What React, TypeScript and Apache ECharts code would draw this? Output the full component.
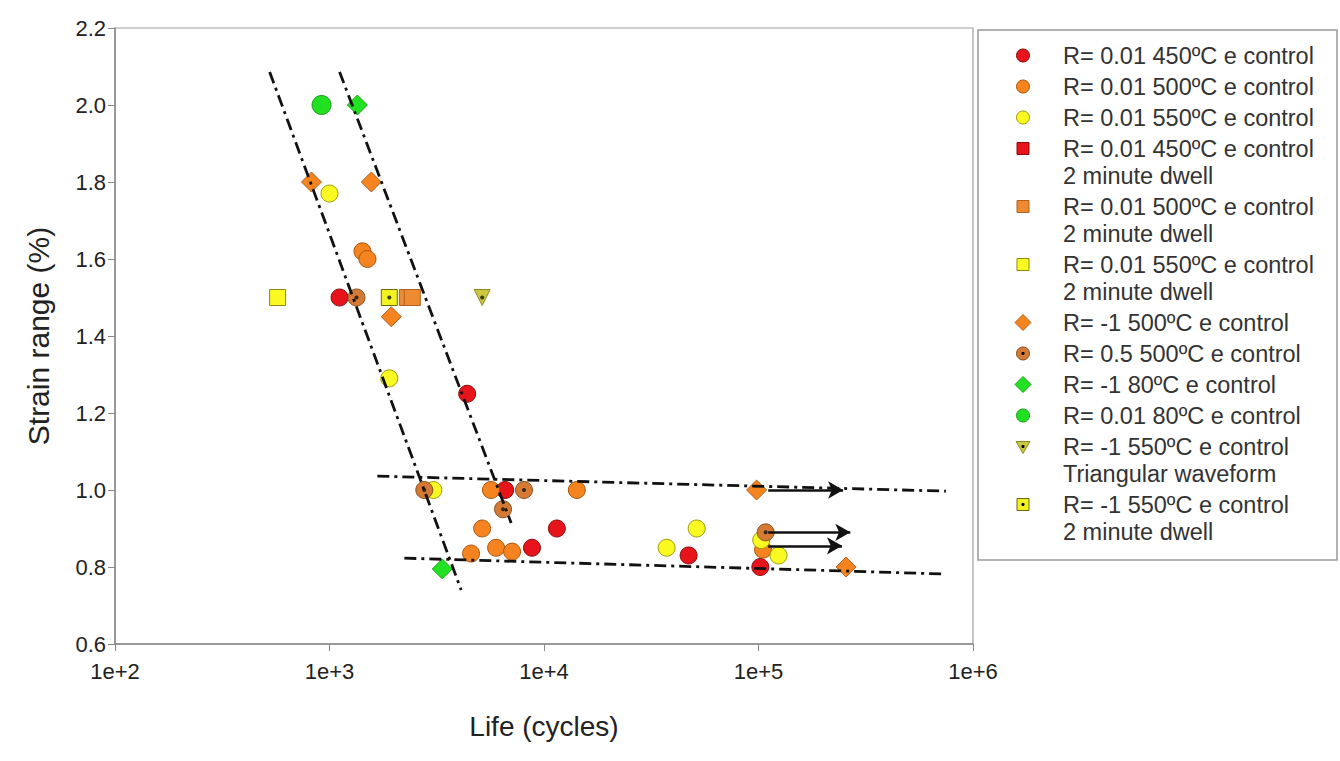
import React, { useEffect, useRef } from "react";
import * as echarts from "echarts";

// ---- data (Life in cycles, Strain range %) ----
const red450 = [[1114, 1.5], [4385, 1.25], [6590, 1.0], [11480, 0.9], [8790, 0.85], [47240, 0.83], [102000, 0.8]];
const orange500 = [[1424, 1.62], [1503, 1.6], [5660, 1.0], [14220, 1.0], [5150, 0.9], [4570, 0.835], [5980, 0.85], [7100, 0.84], [105000, 0.845]];
const yellow550 = [[1000, 1.77], [1900, 1.29], [3050, 1.0], [51500, 0.9], [37300, 0.85], [103000, 0.87], [124000, 0.83]];
const red450Dwell: number[][] = [];
const orange500Dwell = [[2307, 1.5], [2432, 1.5]];
const yellow550Dwell = [[573, 1.5]];
const rm1_500 = [[824, 1.8], [1567, 1.8], [1941, 1.45], [98000, 1.0], [256000, 0.8]];
const r05_500 = [[1336, 1.5], [2767, 1.0], [8070, 1.0], [6440, 0.95], [108000, 0.89]];
const rm1_80 = [[1349, 2.0], [3357, 0.795]];
const r001_80 = [[918, 2.0]];
const rm1_550Tri = [[5150, 1.5]];
const rm1_550Dwell = [[1900, 1.5]];

const guideLeft = [[526, 2.086], [4110, 0.74]];
const guideRight = [[1114, 2.086], [7030, 0.914]];
const guideUpper = [[1671, 1.036], [748000, 0.997]];
const guideLower = [[2233, 0.823], [724000, 0.782]];

const runoutArrows = [
  [[111000, 1.0], [248000, 1.0]],
  [[111000, 0.89], [268000, 0.89]],
  [[111000, 0.855], [245000, 0.855]],
];

const xTicks = ["1e+2", "1e+3", "1e+4", "1e+5", "1e+6"];

const legendNames = [
  "R= 0.01 450ºC e control",
  "R= 0.01 500ºC e control",
  "R= 0.01 550ºC e control",
  "R= 0.01 450ºC e control\n2 minute dwell",
  "R= 0.01 500ºC e control\n2 minute dwell",
  "R= 0.01 550ºC e control\n2 minute dwell",
  "R= -1 500ºC e control",
  "R= 0.5 500ºC e control",
  "R= -1 80ºC e control",
  "R= 0.01 80ºC e control",
  "R= -1 550ºC e control\nTriangular waveform",
  "R= -1 550ºC e control\n2 minute dwell",
];

type Meta = { data: number[][]; shape: string; fill: string; stroke: string; dot?: boolean; size: number };
const meta: Meta[] = [
  { data: red450, shape: "circle", fill: "#e8141c", stroke: "#8a0a0a", size: 17 },
  { data: orange500, shape: "circle", fill: "#f58420", stroke: "#a85510", size: 17 },
  { data: yellow550, shape: "circle", fill: "#fafa22", stroke: "#9a9a10", size: 17 },
  { data: red450Dwell, shape: "rect", fill: "#e8141c", stroke: "#8a0a0a", size: 16 },
  { data: orange500Dwell, shape: "rect", fill: "#ee8a30", stroke: "#b06020", size: 16 },
  { data: yellow550Dwell, shape: "rect", fill: "#fafa22", stroke: "#8a8a10", size: 16 },
  { data: rm1_500, shape: "diamond", fill: "#f58420", stroke: "#b06020", size: 20 },
  { data: r05_500, shape: "circle", fill: "#d47a34", stroke: "#8a5020", dot: true, size: 17 },
  { data: rm1_80, shape: "diamond", fill: "#22e022", stroke: "#18a018", size: 20 },
  { data: r001_80, shape: "circle", fill: "#22e022", stroke: "#18a018", size: 19 },
  { data: rm1_550Tri, shape: "triangleDown", fill: "#cfc640", stroke: "#8a8a20", dot: true, size: 16 },
  { data: rm1_550Dwell, shape: "rect", fill: "#f2f222", stroke: "#6a6a10", dot: true, size: 16 },
];

const FONT = '"Liberation Sans", Arial, sans-serif';

function legendSymbol(m: Meta, cx: number, cy: number) {
  const style = { fill: m.fill, stroke: m.stroke, lineWidth: 1 };
  if (m.shape === "circle") return { type: "circle", shape: { cx, cy, r: 6.5 }, style };
  if (m.shape === "rect") return { type: "rect", shape: { x: cx - 6, y: cy - 6, width: 12, height: 12 }, style };
  if (m.shape === "diamond")
    return { type: "polygon", shape: { points: [[cx, cy - 8], [cx + 8, cy], [cx, cy + 8], [cx - 8, cy]] }, style };
  return { type: "polygon", shape: { points: [[cx - 7, cy - 5], [cx + 7, cy - 5], [cx, cy + 7]] }, style };
}

function buildLegend() {
  const els: any[] = [
    { type: "rect", shape: { x: 978, y: 30, width: 359, height: 530 }, style: { fill: "#fff", stroke: "#9a9a9a", lineWidth: 1.5 } },
  ];
  let y = 42;
  legendNames.forEach((name, i) => {
    const m = meta[i];
    const cy = y + 13.5;
    els.push(legendSymbol(m, 1023, cy));
    if (m.dot) els.push({ type: "circle", shape: { cx: 1023, cy, r: 1.6 }, style: { fill: "#000" } });
    els.push({
      type: "text",
      x: 1063,
      y,
      style: { text: name, fontSize: 23.5, fontFamily: FONT, fill: "#333", lineHeight: 27, verticalAlign: "top", align: "left" },
    });
    y += name.split("\n").length * 27 + 4;
  });
  return els;
}

function symbolOf(shape: string) {
  if (shape === "rect") return "rect";
  if (shape === "diamond") return "diamond";
  if (shape === "triangleDown") return "triangle";
  return "circle";
}

export default function App() {
  const ref = useRef<HTMLDivElement>(null);
  useEffect(() => {
    const chart = echarts.init(ref.current!, null, { renderer: "svg" });
    const series: any[] = [];
    meta.forEach((m, i) => {
      series.push({
        type: "scatter",
        name: legendNames[i],
        data: m.data,
        symbol: symbolOf(m.shape),
        symbolRotate: m.shape === "triangleDown" ? 180 : 0,
        symbolSize: m.size,
        itemStyle: { color: m.fill, borderColor: m.stroke, borderWidth: 1, opacity: 1 },
        z: 2,
      });
      if (m.dot) {
        series.push({
          type: "scatter",
          data: m.data,
          symbol: "circle",
          symbolSize: 4,
          itemStyle: { color: "#111" },
          z: 3,
          silent: true,
        });
      }
    });
    const guideStyle = { color: "#111", width: 2.8, type: [12, 5, 3, 5] };
    [guideLeft, guideRight, guideUpper, guideLower].forEach((g) => {
      series.push({ type: "line", data: g, symbol: "none", lineStyle: guideStyle, z: 4, silent: true });
    });
    series.push({
      type: "scatter",
      data: [],
      markLine: {
        silent: true,
        symbol: ["none", "arrow"],
        symbolSize: [13, 15],
        label: { show: false },
        lineStyle: { color: "#111", width: 2.6, type: "solid" },
        data: runoutArrows.map(([a, b]) => [{ coord: a }, { coord: b }]),
      },
      z: 5,
    });

    chart.setOption({
      animation: false,
      backgroundColor: "#fff",
      textStyle: { fontFamily: FONT },
      grid: { left: 115, right: 367, top: 28, bottom: 117, show: true, borderColor: "#a0a0a0", borderWidth: 1.2 },
      xAxis: {
        type: "log",
        logBase: 10,
        min: 100,
        max: 1000000,
        name: "Life (cycles)",
        nameLocation: "middle",
        nameGap: 68,
        nameTextStyle: { fontSize: 28, color: "#222", fontFamily: FONT },
        axisLine: { show: true, lineStyle: { color: "#888", width: 1.5 } },
        axisTick: { show: true, length: 7, lineStyle: { color: "#888" } },
        minorTick: { show: false },
        splitLine: { show: false },
        axisLabel: {
          fontSize: 22,
          color: "#222",
          margin: 16,
          fontFamily: FONT,
          formatter: (v: number) => xTicks[Math.round(Math.log10(v)) - 2] ?? "",
        },
      },
      yAxis: {
        type: "value",
        min: 0.6,
        max: 2.2,
        interval: 0.2,
        name: "Strain range (%)",
        nameLocation: "middle",
        nameGap: 62,
        nameTextStyle: { fontSize: 30, color: "#222", fontFamily: FONT },
        axisLine: { show: true, lineStyle: { color: "#888", width: 1.5 } },
        axisTick: { show: true, length: 7, lineStyle: { color: "#888" } },
        splitLine: { show: false },
        axisLabel: { fontSize: 22, color: "#222", margin: 9, fontFamily: FONT, formatter: (v: number) => v.toFixed(1) },
      },
      graphic: { elements: buildLegend() },
      series,
    });
    return () => chart.dispose();
  }, []);
  return <div ref={ref} style={{ position: "fixed", left: 0, top: 0, width: 1340, height: 761, background: "#fff" }} />;
}
